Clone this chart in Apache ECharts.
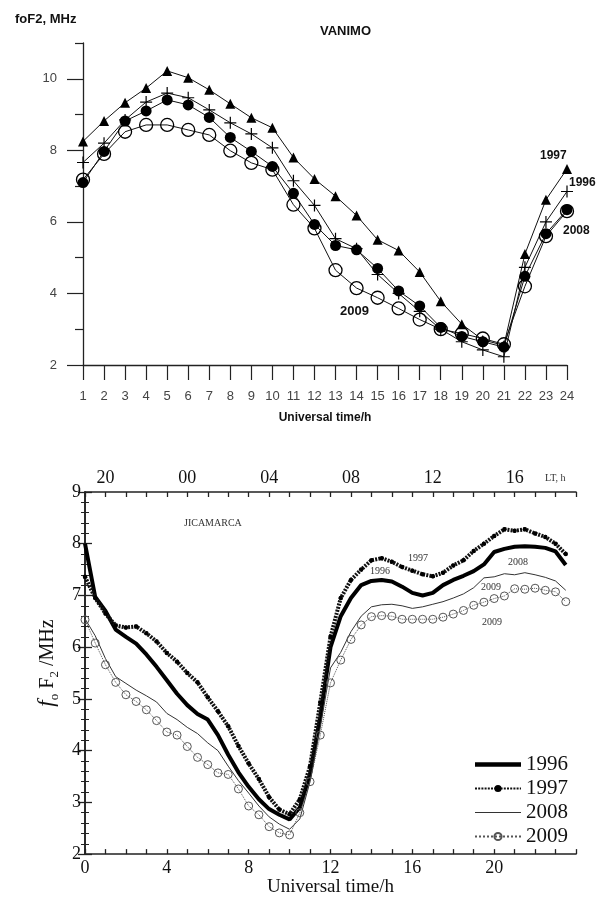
<!DOCTYPE html>
<html>
<head>
<meta charset="utf-8">
<script src="https://cdn.jsdelivr.net/npm/echarts@6/dist/echarts.min.js"></script>
</head>
<body style="margin:0; background:#fff">
<div id="container" style="width:602px;height:898px"></div>
<script>
// ---- VANIMO (top panel), hourly values, UT 1..24
var vanimoHours = [1, 2, 3, 4, 5, 6, 7, 8, 9, 10, 11, 12, 13, 14, 15, 16, 17, 18, 19, 20, 21, 22, 23, 24];
var vanimo1997 = [8.25, 8.82, 9.33, 9.74, 10.22, 10.03, 9.69, 9.3, 8.91, 8.63, 7.8, 7.2, 6.72, 6.18, 5.5, 5.2, 4.6, 3.78, 3.14, 2.7, 2.55, 5.1, 6.62, 7.48];
var vanimo1996 = [7.66, 8.2, 8.85, 9.35, 9.6, 9.47, 9.13, 8.77, 8.46, 8.07, 7.15, 6.46, 5.53, 5.25, 4.53, 4.0, 3.5, 3.0, 2.65, 2.42, 2.23, 4.73, 6.0, 6.85];
var vanimo2008 = [7.1, 7.97, 8.82, 9.1, 9.41, 9.27, 8.92, 8.36, 7.97, 7.55, 6.8, 5.93, 5.34, 5.22, 4.7, 4.07, 3.65, 3.05, 2.8, 2.65, 2.5, 4.48, 5.67, 6.34];
var vanimo2009 = [7.18, 7.9, 8.52, 8.71, 8.71, 8.57, 8.43, 7.99, 7.65, 7.46, 6.48, 5.82, 4.65, 4.15, 3.88, 3.58, 3.27, 3.0, 2.88, 2.74, 2.58, 4.2, 5.6, 6.3];

// ---- JICAMARCA (bottom panel), half-hourly values, UT 0..23.5
var jicaHours = [0, 0.5, 1, 1.5, 2, 2.5, 3, 3.5, 4, 4.5, 5, 5.5, 6, 6.5, 7, 7.5, 8, 8.5, 9, 9.5, 10, 10.5, 11, 11.5,
                 12, 12.5, 13, 13.5, 14, 14.5, 15, 15.5, 16, 16.5, 17, 17.5, 18, 18.5, 19, 19.5, 20, 20.5, 21, 21.5, 22, 22.5, 23, 23.5];
var jica1996 = [8.0, 6.97, 6.7, 6.34, 6.2, 6.07, 5.86, 5.62, 5.36, 5.1, 4.88, 4.71, 4.6, 4.3, 3.92, 3.58, 3.3, 3.06, 2.87, 2.76, 2.67, 2.9, 3.55, 4.66,
                6.0, 6.6, 6.95, 7.2, 7.28, 7.3, 7.27, 7.17, 7.05, 7.0, 7.05, 7.2, 7.3, 7.38, 7.47, 7.6, 7.84, 7.9, 7.94, 7.95, 7.94, 7.92, 7.85, 7.59];
var jica1997 = [7.36, 6.95, 6.65, 6.42, 6.38, 6.4, 6.27, 6.11, 5.89, 5.72, 5.5, 5.32, 5.03, 4.76, 4.47, 4.09, 3.75, 3.45, 3.1, 2.86, 2.77, 3.06, 3.7, 4.93,
                6.2, 6.95, 7.3, 7.5, 7.68, 7.72, 7.65, 7.55, 7.48, 7.41, 7.37, 7.44, 7.58, 7.68, 7.86, 8.0, 8.15, 8.28, 8.25, 8.28, 8.2, 8.13, 8.0, 7.8];
var jica2008 = [6.55, 6.22, 5.78, 5.43, 5.3, 5.17, 5.06, 4.94, 4.72, 4.6, 4.45, 4.33, 4.15, 4.0, 3.7, 3.42, 3.18, 2.93, 2.72, 2.58, 2.48, 2.68, 3.4, 4.45,
                5.6, 5.9, 6.3, 6.6, 6.78, 6.82, 6.83, 6.8, 6.75, 6.78, 6.83, 6.88, 6.95, 7.03, 7.15, 7.34, 7.36, 7.42, 7.4, 7.44, 7.4, 7.35, 7.28, 7.1];
var jica2009 = [6.53, 6.08, 5.66, 5.32, 5.08, 4.95, 4.79, 4.58, 4.36, 4.3, 4.08, 3.87, 3.73, 3.57, 3.54, 3.26, 2.93, 2.76, 2.53, 2.41, 2.37, 2.8, 3.4, 4.3,
                5.31, 5.75, 6.15, 6.43, 6.59, 6.61, 6.6, 6.54, 6.54, 6.54, 6.54, 6.58, 6.64, 6.71, 6.81, 6.87, 6.94, 6.99, 7.13, 7.12, 7.14, 7.1, 7.07, 6.88];

var legendNames = ['1996', '1997', '2008', '2009'];

function pairs(xs, ys) {
    return ys.map(function (v, i) { return [xs[i], v]; });
}
function pad2(n) { return (n < 10 ? '0' : '') + n; }

var sans = 'Liberation Sans, Arial, sans-serif';
var serif = 'Liberation Serif, Times New Roman, serif';
var plusPath = 'path://M4.5,0h1v4.5h4.5v1h-4.5v4.5h-1v-4.5h-4.5v-1h4.5z';

var chart = echarts.init(document.getElementById('container'));

var option = {
    backgroundColor: '#fff',
    animation: false,
    grid: [
        { left: 83, right: 35, top: 43, bottom: 533 },
        { left: 85, right: 26, top: 492, bottom: 43 }
    ],
    xAxis: [
        {
            gridIndex: 0, type: 'value', min: 1, max: 24, interval: 1,
            name: 'Universal time/h', nameLocation: 'middle', nameGap: 47,
            nameTextStyle: { fontFamily: sans, fontWeight: 'bold', fontSize: 12, color: '#111' },
            axisLine: { lineStyle: { color: '#222', width: 1.3 } },
            axisTick: { inside: false, length: 15, lineStyle: { color: '#222', width: 1.2 } },
            axisLabel: { margin: 25, fontFamily: sans, fontSize: 13, color: '#444' },
            splitLine: { show: false }
        },
        {
            gridIndex: 1, type: 'value', min: 0, max: 24, interval: 1, position: 'bottom',
            name: 'Universal time/h', nameLocation: 'middle', nameGap: 19,
            nameTextStyle: { fontFamily: serif, fontSize: 19, color: '#111' },
            axisLine: { lineStyle: { color: '#222', width: 1.6 } },
            axisTick: { inside: true, length: 5, lineStyle: { color: '#222', width: 1.3 } },
            axisLabel: { customValues: [0, 4, 8, 12, 16, 20], margin: 5, fontFamily: serif, fontSize: 18, color: '#111' },
            splitLine: { show: false }
        },
        {
            gridIndex: 1, type: 'value', min: 0, max: 24, interval: 1, position: 'top',
            axisLine: { lineStyle: { color: '#222', width: 1.6 } },
            axisTick: { inside: true, length: 5, lineStyle: { color: '#222', width: 1.3 } },
            axisLabel: {
                customValues: [1, 5, 9, 13, 17, 21], margin: 5, fontFamily: serif, fontSize: 18, color: '#111',
                formatter: function (v) { return pad2((v - 5 + 24) % 24); }
            },
            splitLine: { show: false }
        }
    ],
    yAxis: [
        {
            gridIndex: 0, type: 'value', min: 2, max: 11, interval: 1, position: 'left',
            axisLine: { show: true, lineStyle: { color: '#222', width: 1.3 } },
            axisTick: { show: true, customValues: [2, 4, 6, 8, 10], length: 16, lineStyle: { color: '#222', width: 1.2 } },
            axisLabel: { customValues: [2, 4, 6, 8, 10], margin: 26, fontFamily: sans, fontSize: 13, color: '#444' },
            splitLine: { show: false }
        },
        {
            gridIndex: 0, type: 'value', min: 2, max: 11, interval: 1, position: 'left',
            axisLine: { show: false },
            axisTick: { show: true, customValues: [3, 5, 7, 9, 11], length: 8, lineStyle: { color: '#222', width: 1.2 } },
            axisLabel: { show: false },
            splitLine: { show: false }
        },
        {
            gridIndex: 1, type: 'value', min: 2, max: 9, interval: 1, position: 'left',
            name: '{f|f}{s|o}{b| F}{s|2}{b| /MHz}', nameLocation: 'middle', nameGap: 21, nameRotate: 90,
            nameTextStyle: {
                color: '#111',
                padding: [0, 0, 0, 20],
                rich: {
                    f: { fontFamily: serif, fontStyle: 'italic', fontSize: 23, color: '#111', verticalAlign: 'bottom' },
                    b: { fontFamily: serif, fontSize: 20, color: '#111', verticalAlign: 'bottom' },
                    s: { fontFamily: serif, fontSize: 13, color: '#111', verticalAlign: 'bottom', padding: [0, 0, -3, 0] }
                }
            },
            axisLine: { show: true, lineStyle: { color: '#222', width: 1.6 } },
            axisTick: { show: true, inside: true, length: 7, lineStyle: { color: '#222', width: 1.3 } },
            minorTick: { show: true, splitNumber: 5, length: 4, lineStyle: { color: '#222', width: 1 } },
            axisLabel: { margin: 4, fontFamily: serif, fontSize: 18, color: '#111' },
            splitLine: { show: false }
        },
        {
            gridIndex: 1, type: 'value', min: 2, max: 9, interval: 1, position: 'right',
            axisLine: { show: true, lineStyle: { color: '#222', width: 1.6 } },
            axisTick: { show: true, inside: true, length: 7, lineStyle: { color: '#222', width: 1.3 } },
            minorTick: { show: true, splitNumber: 5, length: 4, lineStyle: { color: '#222', width: 1 } },
            axisLabel: { show: false },
            splitLine: { show: false }
        }
    ],
    legend: {
        data: [
            { name: legendNames[0], icon: 'path://M0,0H46V4.5H0Z' },
            { name: legendNames[1] },
            { name: legendNames[2], icon: 'path://M0,0H46V1H0Z' },
            { name: legendNames[3] }
        ],
        orient: 'vertical',
        left: 469,
        top: 749,
        itemWidth: 46,
        itemHeight: 9,
        itemGap: 3,
        textStyle: { fontFamily: serif, fontSize: 21, lineHeight: 21, color: '#111' }
    },
    graphic: [
        { type: 'text', left: 15, top: 13, style: { text: 'foF2, MHz', font: 'bold 13px ' + sans, fill: '#111' } },
        { type: 'text', left: 320, top: 25, style: { text: 'VANIMO', font: 'bold 13px ' + sans, fill: '#111' } },
        { type: 'text', left: 540, top: 150, style: { text: '1997', font: 'bold 12px ' + sans, fill: '#111' } },
        { type: 'text', left: 569, top: 177, style: { text: '1996', font: 'bold 12px ' + sans, fill: '#111' } },
        { type: 'text', left: 563, top: 225, style: { text: '2008', font: 'bold 12px ' + sans, fill: '#111' } },
        { type: 'text', left: 340, top: 305, style: { text: '2009', font: 'bold 13px ' + sans, fill: '#111' } },
        { type: 'text', left: 184, top: 518, style: { text: 'JICAMARCA', font: '10px ' + serif, fill: '#333' } },
        { type: 'text', left: 545, top: 473, style: { text: 'LT, h', font: '10px ' + serif, fill: '#333' } },
        { type: 'text', left: 408, top: 553, style: { text: '1997', font: '10px ' + serif, fill: '#333' } },
        { type: 'text', left: 370, top: 566, style: { text: '1996', font: '10px ' + serif, fill: '#333' } },
        { type: 'text', left: 508, top: 557, style: { text: '2008', font: '10px ' + serif, fill: '#333' } },
        { type: 'text', left: 481, top: 582, style: { text: '2009', font: '10px ' + serif, fill: '#333' } },
        { type: 'text', left: 482, top: 617, style: { text: '2009', font: '10px ' + serif, fill: '#333' } }
    ],
    series: [
        {
            name: 'V1997', type: 'line', xAxisIndex: 0, yAxisIndex: 0,
            data: pairs(vanimoHours, vanimo1997),
            symbol: 'triangle', symbolSize: 10,
            itemStyle: { color: '#000' },
            lineStyle: { color: '#111', width: 1 }
        },
        {
            name: 'V1996', type: 'line', xAxisIndex: 0, yAxisIndex: 0,
            data: pairs(vanimoHours, vanimo1996),
            symbol: plusPath, symbolSize: 12,
            itemStyle: { color: '#000' },
            lineStyle: { color: '#111', width: 1 }
        },
        {
            name: 'V2008', type: 'line', xAxisIndex: 0, yAxisIndex: 0,
            data: pairs(vanimoHours, vanimo2008),
            symbol: 'circle', symbolSize: 11,
            itemStyle: { color: '#000' },
            lineStyle: { color: '#111', width: 1 }
        },
        {
            name: 'V2009', type: 'line', xAxisIndex: 0, yAxisIndex: 0,
            data: pairs(vanimoHours, vanimo2009),
            symbol: 'circle', symbolSize: 13,
            itemStyle: { color: 'rgba(255,255,255,0)', borderColor: '#000', borderWidth: 1.3 },
            lineStyle: { color: '#111', width: 1 }
        },
        {
            name: '1996', type: 'line', xAxisIndex: 1, yAxisIndex: 2,
            data: pairs(jicaHours, jica1996),
            symbol: 'none',
            itemStyle: { color: '#000' },
            lineStyle: { color: '#000', width: 4 }
        },
        {
            name: '1997', type: 'line', xAxisIndex: 1, yAxisIndex: 2,
            data: pairs(jicaHours, jica1997),
            symbol: 'circle', symbolSize: 4.5, showAllSymbol: true,
            itemStyle: { color: '#000' },
            lineStyle: { color: '#111', width: 4, type: [2, 1.2] }
        },
        {
            name: '2008', type: 'line', xAxisIndex: 1, yAxisIndex: 2,
            data: pairs(jicaHours, jica2008),
            symbol: 'none',
            itemStyle: { color: '#333' },
            lineStyle: { color: '#333', width: 1 }
        },
        {
            name: '2009', type: 'line', xAxisIndex: 1, yAxisIndex: 2,
            data: pairs(jicaHours, jica2009),
            symbol: 'circle', symbolSize: 8, showAllSymbol: true,
            itemStyle: { color: 'rgba(255,255,255,0)', borderColor: '#555', borderWidth: 1 },
            lineStyle: { color: '#555', width: 1, type: 'dotted' }
        }
    ]
};

chart.setOption(option);
</script>
</body>
</html>
